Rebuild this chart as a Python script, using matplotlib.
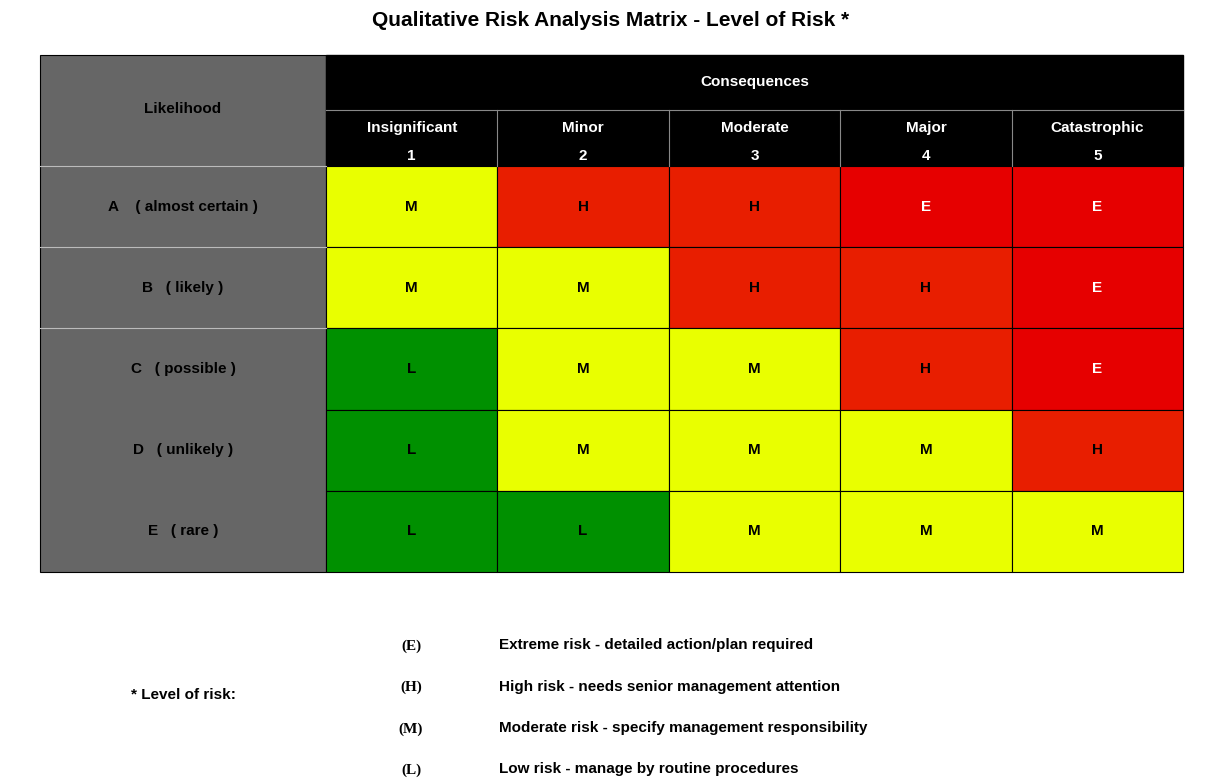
import matplotlib
matplotlib.use("Agg")
import matplotlib.pyplot as plt
from matplotlib.patches import Rectangle

consequences = ["Insignificant", "Minor", "Moderate", "Major", "Catastrophic"]
cons_nums = ["1", "2", "3", "4", "5"]
likelihood = ["A    ( almost certain )", "B   ( likely )", "C   ( possible )", "D   ( unlikely )", "E   ( rare )"]
risk = [["M", "H", "H", "E", "E"],
        ["M", "M", "H", "H", "E"],
        ["L", "M", "M", "H", "E"],
        ["L", "M", "M", "M", "H"],
        ["L", "L", "M", "M", "M"]]
legend_codes = ["(E)", "(H)", "(M)", "(L)"]
legend_texts = ["Extreme risk - detailed action/plan required",
                "High risk - needs senior management attention",
                "Moderate risk - specify management responsibility",
                "Low risk - manage by routine procedures"]

colors = {"M": "#e9ff00", "H": "#e81e00", "E": "#e60000", "L": "#009000"}
txtcol = {"M": "black", "H": "black", "E": "white", "L": "black"}

plt.rcParams["font.family"] = "Liberation Sans"
fig = plt.figure(figsize=(12.17, 7.79), dpi=100)
ax = fig.add_axes([0, 0, 1, 1])
ax.set_xlim(0, 1217); ax.set_ylim(779, 0); ax.axis("off")

L0, L1, R = 40, 326, 1183
top, hdr1, hdr2 = 55, 110, 166
rowh = 81.2
colw = (R - L1) / 5

ax.text(611, 20, "Qualitative Risk Analysis Matrix - Level of Risk *", ha="center", va="center",
        fontsize=15, fontweight="bold")

# likelihood column
ax.add_patch(Rectangle((L0, top), L1 - L0, hdr2 + 5 * rowh - top, facecolor="#666666", edgecolor="black", lw=0.8))
ax.text((L0 + L1) / 2, 109, "Likelihood", ha="center", va="center", fontsize=11, fontweight="bold")
ax.plot([L0, L1], [hdr2, hdr2], color="#bbbbbb", lw=0.8)
for i, lab in enumerate(likelihood):
    y0 = hdr2 + i * rowh
    if i in (1, 2):
        ax.plot([L0, L1], [y0, y0], color="#bbbbbb", lw=0.8)
    ax.text((L0 + L1) / 2, y0 + rowh / 2, lab, ha="center", va="center", fontsize=11, fontweight="bold")

# header
ax.add_patch(Rectangle((L1, top), R - L1, hdr2 - top, facecolor="black", edgecolor="black"))
ax.plot([L1, R], [hdr1, hdr1], color="#888888", lw=0.8)
ax.text((L1 + R) / 2, 82, "Consequences", ha="center", va="center", fontsize=11, fontweight="bold", color="white")
for j, (c, n) in enumerate(zip(consequences, cons_nums)):
    x0 = L1 + j * colw
    if j > 0:
        ax.plot([x0, x0], [hdr1, hdr2], color="#888888", lw=0.8)
    ax.text(x0 + colw / 2, 128, c, ha="center", va="center", fontsize=11, fontweight="bold", color="white")
    ax.text(x0 + colw / 2, 156, n, ha="center", va="center", fontsize=11, fontweight="bold", color="white")

# cells
for i, row in enumerate(risk):
    for j, v in enumerate(row):
        x0 = L1 + j * colw
        y0 = hdr2 + i * rowh
        ax.add_patch(Rectangle((x0, y0), colw, rowh, facecolor=colors[v], edgecolor="black", lw=0.8))
        ax.text(x0 + colw / 2, y0 + rowh / 2, v, ha="center", va="center", fontsize=11,
                fontweight="bold", color=txtcol[v])

# legend
ax.text(183, 695, "* Level of risk:", ha="center", va="center", fontsize=11, fontweight="bold")
for k, (code, t) in enumerate(zip(legend_codes, legend_texts)):
    y = 645 + k * 41.5
    ax.text(411, y + 1, code, ha="center", va="center", fontsize=11, fontweight="bold", family="Liberation Serif")
    ax.text(499, y, t, ha="left", va="center", fontsize=11, fontweight="bold")

fig.savefig("out.png", dpi=100)
